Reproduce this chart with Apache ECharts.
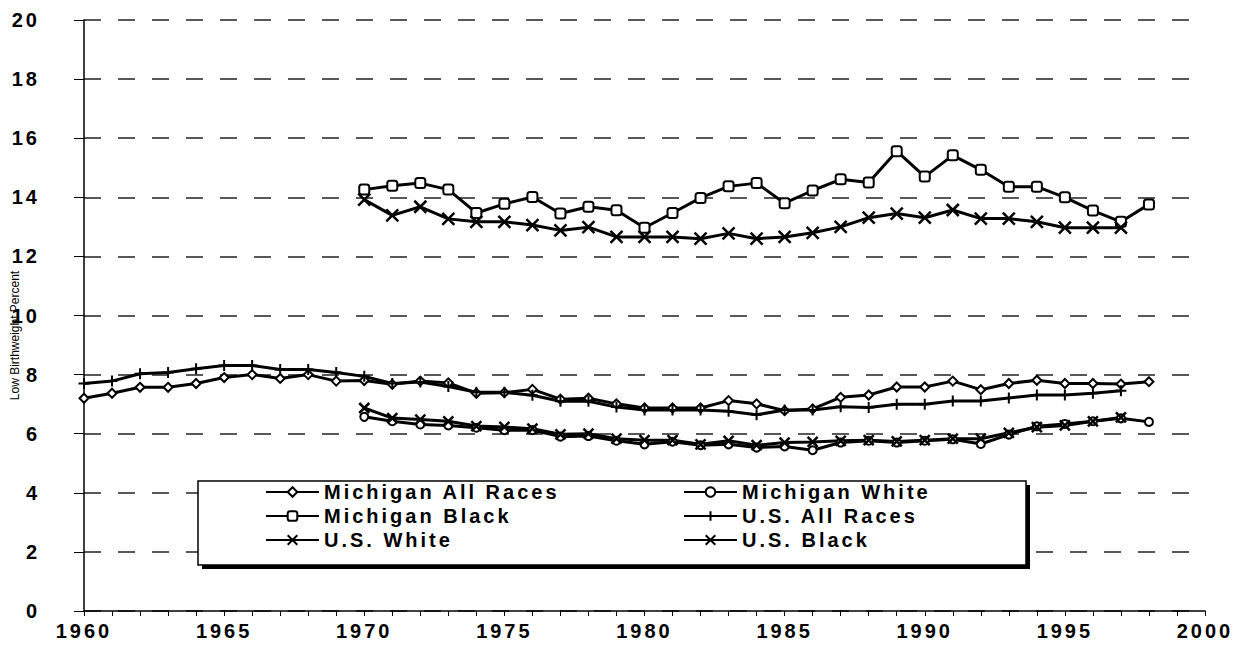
<!DOCTYPE html>
<html>
<head>
<meta charset="utf-8">
<title>Low Birthweight Percent</title>
<script src="https://cdn.jsdelivr.net/npm/echarts@6/dist/echarts.min.js"></script>
<style>
  html, body { margin: 0; padding: 0; background: #fff; }
  #chart { width: 1240px; height: 645px; }
  /* the scanned chart uses wide tracking on its big labels */
  #chart text[style*="20px"] { letter-spacing: 3px; }
</style>
</head>
<body>
<div id="chart"></div>
<script>
// years 1960 - 1998
var years = [];
for (var y = 1960; y <= 1998; y++) years.push(y);

var miAllRaces = [
  7.2, 7.37, 7.57, 7.57, 7.7, 7.9, 8.0, 7.87, 8.0, 7.78,
  7.8, 7.67, 7.78, 7.72, 7.37, 7.39, 7.5, 7.17, 7.2, 7.01,
  6.87, 6.87, 6.87, 7.12, 7.01, 6.78, 6.84, 7.23, 7.31, 7.58,
  7.58, 7.78, 7.49, 7.7, 7.81, 7.7, 7.7, 7.68, 7.76
];
var miWhite = [
  null, null, null, null, null, null, null, null, null, null,
  6.57, 6.42, 6.31, 6.28, 6.2, 6.12, 6.12, 5.9, 5.92, 5.76,
  5.64, 5.73, 5.61, 5.64, 5.53, 5.57, 5.44, 5.7, 5.76, 5.7,
  5.76, 5.81, 5.65, 5.97, 6.25, 6.33, 6.42, 6.52, 6.4
];
var miBlack = [
  null, null, null, null, null, null, null, null, null, null,
  14.26, 14.39, 14.48, 14.26, 13.47, 13.78, 14.01, 13.45, 13.68, 13.56,
  12.97, 13.47, 13.98, 14.37, 14.48, 13.8, 14.23, 14.61, 14.5, 15.56,
  14.7, 15.42, 14.93, 14.36, 14.36, 14.0, 13.55, 13.17, 13.76
];
var usAllRaces = [
  7.7, 7.78, 8.03, 8.07, 8.2, 8.31, 8.31, 8.17, 8.17, 8.07,
  7.94, 7.7, 7.75, 7.6, 7.4, 7.4, 7.3, 7.1, 7.1, 6.9,
  6.8, 6.8, 6.8, 6.76, 6.64, 6.8, 6.8, 6.91, 6.89, 7.0,
  7.0, 7.11, 7.11, 7.21, 7.31, 7.31, 7.37, 7.45, null
];
var usWhite = [
  null, null, null, null, null, null, null, null, null, null,
  6.87, 6.53, 6.48, 6.42, 6.26, 6.23, 6.17, 5.98, 6.0, 5.83,
  5.78, 5.78, 5.64, 5.76, 5.61, 5.7, 5.72, 5.76, 5.78, 5.74,
  5.78, 5.83, 5.83, 6.03, 6.22, 6.28, 6.42, 6.55, null
];
var usBlack = [
  null, null, null, null, null, null, null, null, null, null,
  13.92, 13.39, 13.68, 13.27, 13.17, 13.17, 13.06, 12.88, 12.99, 12.66,
  12.66, 12.66, 12.6, 12.78, 12.6, 12.66, 12.8, 13.0, 13.31, 13.45,
  13.31, 13.57, 13.28, 13.28, 13.17, 12.97, 12.97, 12.97, null
];

var plusPath = 'path://M5,0L5,10M0,5L10,5';
var crossPath = 'path://M0,0L10,10M10,0L0,10';

function pairs(vals) {
  return years.map(function (yr, i) { return [yr, vals[i]]; });
}

function lineSeries(name, vals, symbol, size, bw) {
  return {
    name: name,
    type: 'line',
    data: pairs(vals),
    symbol: symbol,
    symbolSize: size,
    showAllSymbol: true,
    lineStyle: { color: '#000', width: 3 },
    itemStyle: { color: '#000', borderColor: '#000', borderWidth: bw },
    emphasis: { disabled: true }
  };
}

var font = "'Liberation Sans', Arial, sans-serif";
var legendText = { fontSize: 20, fontWeight: 'bold', color: '#000', fontFamily: font };

var chart = echarts.init(document.getElementById('chart'), null, { renderer: 'svg' });

var option = {
  animation: false,
  backgroundColor: '#fff',
  grid: { left: 84, right: 35, top: 20, bottom: 34, outerBoundsMode: 'none' },
  xAxis: {
    type: 'value',
    min: 1960,
    max: 2000,
    interval: 5,
    axisLine: { lineStyle: { color: '#000', width: 1.5 } },
    axisTick: { show: true, length: 5, lineStyle: { color: '#000' } },
    minorTick: { show: true, splitNumber: 5, length: 5, lineStyle: { color: '#000' } },
    splitLine: { show: false },
    axisLabel: {
      margin: 10,
      fontSize: 20,
      fontWeight: 'bold',
      color: '#000',
      fontFamily: font,
      formatter: function (v) { return String(v); }
    }
  },
  yAxis: {
    type: 'value',
    min: 0,
    max: 20,
    interval: 2,
    name: 'Low Birthweight Percent',
    nameLocation: 'middle',
    nameRotate: 90,
    nameGap: 63,
    nameMoveOverlap: false,
    nameTextStyle: {
      fontSize: 12,
      color: '#000',
      fontFamily: "'Liberation Sans Narrow', 'Liberation Sans', Arial, sans-serif",
      padding: [0, 40, 0, 0]
    },
    axisLine: { show: true, lineStyle: { color: '#000', width: 1.5 } },
    axisTick: { show: true, length: 10, lineStyle: { color: '#000' } },
    splitLine: { show: true, lineStyle: { color: '#222', width: 1.5, type: [17, 17] } },
    axisLabel: {
      margin: 44,
      fontSize: 20,
      fontWeight: 'bold',
      color: '#000',
      fontFamily: font
    }
  },
  legend: [
    {
      data: ['Michigan All Races', 'Michigan Black', 'U.S. White'],
      orient: 'vertical',
      left: 260,
      top: 477,
      itemWidth: 53,
      itemHeight: 12,
      itemGap: 4,
      z: 10,
      selectedMode: false,
      textStyle: legendText
    },
    {
      data: ['Michigan White', 'U.S. All Races', 'U.S. Black'],
      orient: 'vertical',
      left: 678,
      top: 477,
      itemWidth: 53,
      itemHeight: 12,
      itemGap: 4,
      z: 10,
      selectedMode: false,
      textStyle: legendText
    }
  ],
  graphic: [
    // legend frame with its hard drop shadow
    { type: 'rect', z: 5, shape: { x: 202, y: 485, width: 828, height: 84 }, style: { fill: '#000' } },
    { type: 'rect', z: 6, shape: { x: 198, y: 481, width: 828, height: 84 }, style: { fill: '#fff', stroke: '#000', lineWidth: 1.5 } }
  ],
  series: [
    lineSeries('Michigan All Races', miAllRaces, 'emptyDiamond', 9, 2.5),
    lineSeries('Michigan White', miWhite, 'emptyCircle', 8, 2),
    lineSeries('Michigan Black', miBlack, 'emptyRoundRect', 10, 2.5),
    lineSeries('U.S. All Races', usAllRaces, plusPath, 11, 2),
    lineSeries('U.S. White', usWhite, crossPath, 10, 2.5),
    lineSeries('U.S. Black', usBlack, crossPath, 12, 2.5)
  ]
};

chart.setOption(option);
</script>
</body>
</html>
